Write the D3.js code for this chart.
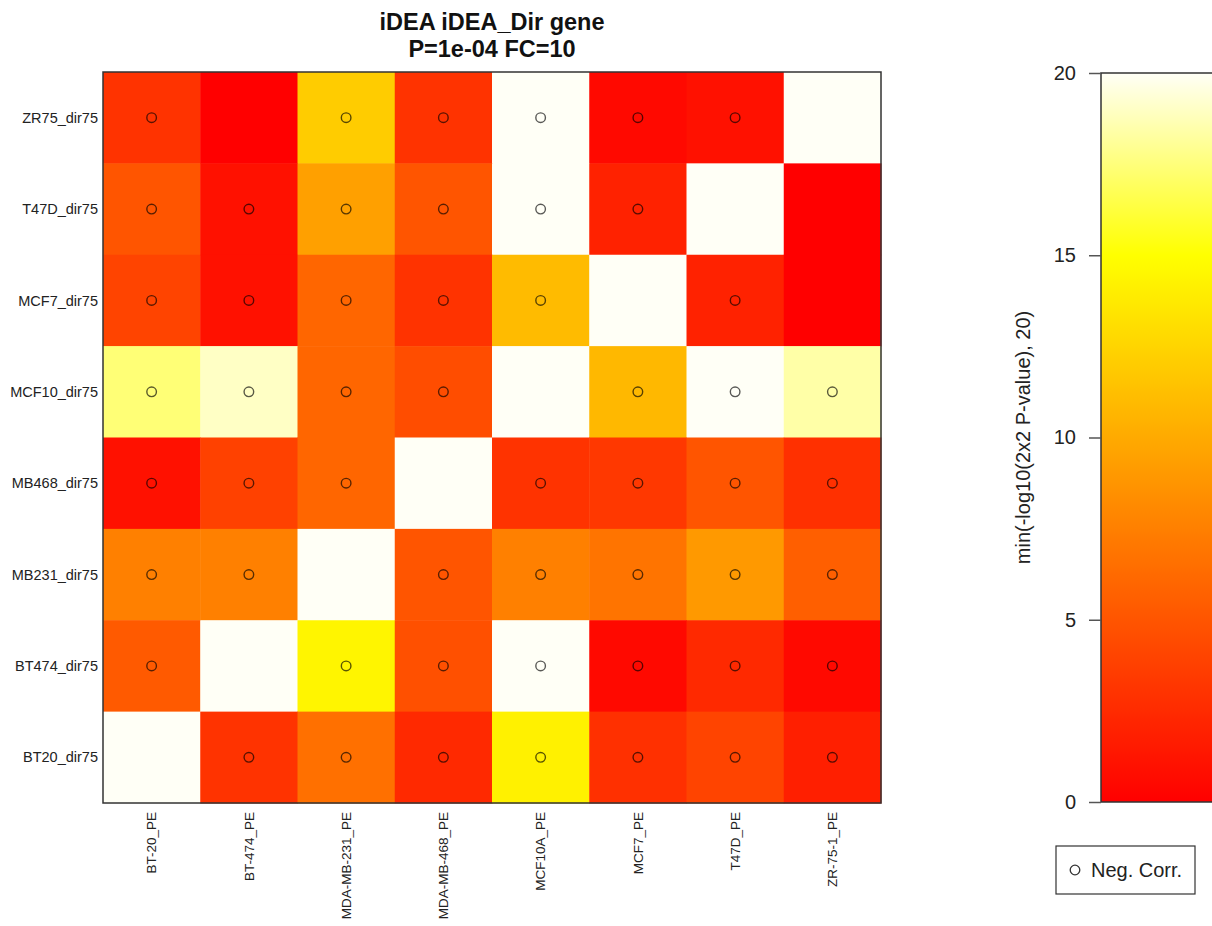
<!DOCTYPE html>
<html>
<head>
<meta charset="utf-8">
<script src="https://cdn.jsdelivr.net/npm/d3@7"></script>
<style>
  html, body { margin: 0; padding: 0; background: #ffffff; }
  svg { display: block; font-family: "Liberation Sans", Arial, Helvetica, sans-serif; }
</style>
</head>
<body>
<svg id="chart" width="1212" height="926"></svg>
<script>
// Column (PE) and row (dir75) sample names
const columns = ["BT-20_PE", "BT-474_PE", "MDA-MB-231_PE", "MDA-MB-468_PE",
                 "MCF10A_PE", "MCF7_PE", "T47D_PE", "ZR-75-1_PE"];
const rows = ["ZR75_dir75", "T47D_dir75", "MCF7_dir75", "MCF10_dir75",
              "MB468_dir75", "MB231_dir75", "BT474_dir75", "BT20_dir75"];

// min(-log10(2x2 P-value), 20), one array per row, in column order
const ZR75_vals  = [3.0, 0.0, 12.0, 3.0, 20.0, 0.5, 1.0, 20.0];
const T47D_vals  = [5.0, 1.0, 9.4, 5.0, 20.0, 2.0, 20.0, 0.0];
const MCF7_vals  = [4.0, 1.0, 6.0, 3.0, 11.0, 20.0, 2.0, 0.0];
const MCF10_vals = [17.4, 19.0, 6.0, 4.5, 20.0, 10.8, 20.0, 18.4];
const MB468_vals = [1.0, 3.8, 6.0, 20.0, 3.0, 3.3, 5.0, 2.8];
const MB231_vals = [7.5, 7.5, 20.0, 5.0, 7.5, 6.8, 9.0, 5.6];
const BT474_vals = [5.3, 20.0, 14.4, 4.7, 20.0, 0.5, 2.4, 0.5];
const BT20_vals  = [20.0, 3.0, 6.6, 2.4, 14.2, 2.8, 4.0, 1.8];
const values = [ZR75_vals, T47D_vals, MCF7_vals, MCF10_vals,
                MB468_vals, MB231_vals, BT474_vals, BT20_vals];

// 1 = negative correlation marker drawn in the cell
const ZR75_neg  = [1, 0, 1, 1, 1, 1, 1, 0];
const T47D_neg  = [1, 1, 1, 1, 1, 1, 0, 0];
const MCF7_neg  = [1, 1, 1, 1, 1, 0, 1, 0];
const MCF10_neg = [1, 1, 1, 1, 0, 1, 1, 1];
const MB468_neg = [1, 1, 1, 0, 1, 1, 1, 1];
const MB231_neg = [1, 1, 0, 1, 1, 1, 1, 1];
const BT474_neg = [1, 0, 1, 1, 1, 1, 1, 1];
const BT20_neg  = [0, 1, 1, 1, 1, 1, 1, 1];
const negCorr = [ZR75_neg, T47D_neg, MCF7_neg, MCF10_neg,
                 MB468_neg, MB231_neg, BT474_neg, BT20_neg];

const colorTicks = [0, 5, 10, 15, 20];
const titleLines = ["iDEA iDEA_Dir gene", "P=1e-04 FC=10"];
const colorbarTitle = "min(-log10(2x2 P-value), 20)";
const legendLabel = "Neg. Corr.";

// heat palette: red -> yellow over [0,15], yellow -> near white over [15,20]
function heat(v) {
  const t = Math.max(0, Math.min(20, v));
  if (t <= 15) {
    const g = Math.round(255 * t / 15);
    return d3.rgb(255, g, 0).formatHex();
  }
  const s = 1 - 0.965 * (t - 15) / 5;
  return d3.rgb(255, 255, Math.round(255 * (1 - s))).formatHex();
}

const svg = d3.select("#chart");

const cells = [];
rows.forEach((r, i) => columns.forEach((c, j) => {
  cells.push({ row: r, col: c, value: values[i][j], neg: negCorr[i][j] });
}));

const x = d3.scaleBand().domain(columns).range([103, 881]);
const y = d3.scaleBand().domain(rows).range([72, 803]);

// heatmap cells
svg.append("g").selectAll("rect").data(cells).join("rect")
  .attr("x", d => x(d.col))
  .attr("y", d => y(d.row))
  .attr("width", x.bandwidth() + 0.5)
  .attr("height", y.bandwidth() + 0.5)
  .attr("fill", d => heat(d.value));

// negative-correlation markers
svg.append("g").selectAll("circle").data(cells.filter(d => d.neg)).join("circle")
  .attr("cx", d => x(d.col) + x.bandwidth() / 2)
  .attr("cy", d => y(d.row) + y.bandwidth() / 2)
  .attr("r", 4.8)
  .attr("fill", "none")
  .attr("stroke", "#000")
  .attr("stroke-opacity", 0.65)
  .attr("stroke-width", 1.4);

// plot frame
svg.append("rect")
  .attr("x", 103).attr("y", 72)
  .attr("width", 778).attr("height", 731)
  .attr("fill", "none").attr("stroke", "#333").attr("stroke-width", 1.5);

// row labels
svg.append("g").selectAll("text").data(rows).join("text")
  .attr("x", 98)
  .attr("y", d => y(d) + y.bandwidth() / 2)
  .attr("dy", "0.35em")
  .attr("text-anchor", "end")
  .attr("font-size", 14.5)
  .attr("fill", "#222")
  .text(d => d);

// column labels, vertical
svg.append("g").selectAll("text").data(columns).join("text")
  .attr("transform", d => `translate(${x(d) + x.bandwidth() / 2},812) rotate(-90)`)
  .attr("dy", "0.35em")
  .attr("text-anchor", "end")
  .attr("font-size", 13.5)
  .attr("fill", "#222")
  .text(d => d);

// title
svg.append("g").selectAll("text").data(titleLines).join("text")
  .attr("x", 492)
  .attr("y", (d, i) => 30 + i * 27)
  .attr("text-anchor", "middle")
  .attr("font-size", 23.5)
  .attr("font-weight", "bold")
  .attr("fill", "#111")
  .text(d => d);

// colour bar
const cScale = d3.scaleLinear().domain([0, 20]).range([802, 73]);
const defs = svg.append("defs");
const grad = defs.append("linearGradient")
  .attr("id", "heatGrad")
  .attr("x1", 0).attr("y1", 1).attr("x2", 0).attr("y2", 0);
grad.selectAll("stop").data(d3.range(0, 20.01, 0.25)).join("stop")
  .attr("offset", d => d / 20)
  .attr("stop-color", d => heat(d));

svg.append("rect")
  .attr("x", 1101).attr("y", cScale(20))
  .attr("width", 140).attr("height", cScale(0) - cScale(20))
  .attr("fill", "url(#heatGrad)")
  .attr("stroke", "#333").attr("stroke-width", 1.5);

const cAxis = svg.append("g")
  .attr("transform", "translate(1101,0)")
  .call(d3.axisLeft(cScale).tickValues(colorTicks).tickSize(12).tickPadding(13));
cAxis.select(".domain").remove();
cAxis.selectAll(".tick line").attr("stroke", "#555").attr("stroke-width", 1.5);
cAxis.selectAll(".tick text")
  .attr("font-size", 20)
  .attr("font-family", "'Liberation Sans', Arial, sans-serif")
  .attr("fill", "#222");

svg.append("text")
  .attr("transform", `translate(1030,${(cScale(0) + cScale(20)) / 2}) rotate(-90)`)
  .attr("text-anchor", "middle")
  .attr("font-size", 20)
  .attr("fill", "#222")
  .text(colorbarTitle);

// legend
const lg = svg.append("g").attr("transform", "translate(1056,846)");
lg.append("rect")
  .attr("width", 139).attr("height", 48)
  .attr("fill", "#fff").attr("stroke", "#333").attr("stroke-width", 1.2);
lg.append("circle")
  .attr("cx", 19).attr("cy", 24).attr("r", 4.8)
  .attr("fill", "none").attr("stroke", "#333").attr("stroke-width", 1.3);
lg.append("text")
  .attr("x", 35).attr("y", 24).attr("dy", "0.35em")
  .attr("font-size", 20)
  .attr("fill", "#222")
  .text(legendLabel);
</script>
</body>
</html>
